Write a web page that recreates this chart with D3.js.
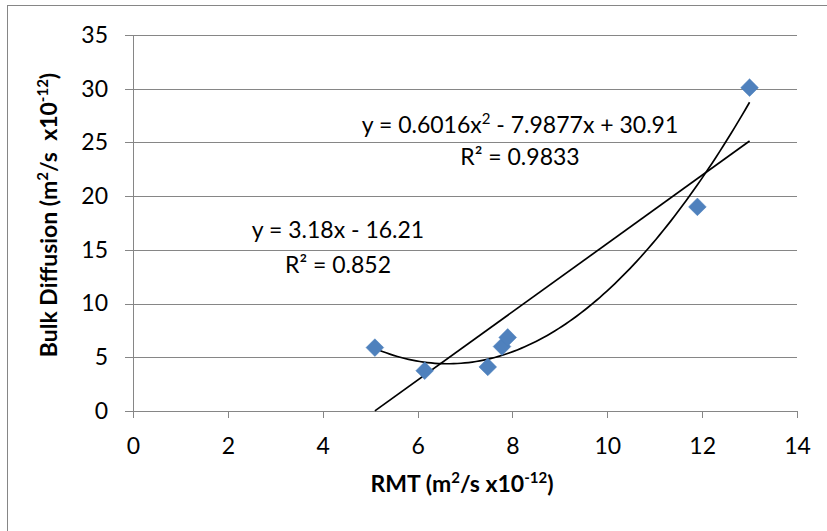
<!DOCTYPE html>
<meta charset="utf-8">
<head>
    <title>Bulk Diffusion vs RMT</title>
</head>
<style>
    body {
        margin: 0;
        background-color: #ffffff;
        font-family: Lato, "Open Sans", Arial;
    }

    .axis path,
    .axis line {
        fill: none;
        stroke: #868686;
        stroke-width: 1px;
        shape-rendering: crispEdges;
    }

    .axis text {
        font-family: Lato, "Open Sans", Arial;
        font-size: 23px;
        fill: #000;
    }

    .grid line {
        stroke: #868686;
        stroke-width: 1px;
        shape-rendering: crispEdges;
    }

    .grid path {
        display: none;
    }

    .eq {
        font-size: 23px;
        fill: #000;
    }

    .title {
        font-size: 23px;
        font-weight: 700;
        fill: #000;
    }
</style>
<body>
    <svg width="827" height="531"></svg>
</body>
<script src="https://d3js.org/d3.v7.min.js"></script>
<script>
    // RMT values (x) and bulk diffusion (y), both in m2/s x10^-12
    var rmt = [5.1, 6.15, 7.48, 7.78, 7.9, 11.9, 13.0];
    var bulk = [5.9, 3.75, 4.1, 6.0, 6.85, 19.0, 30.1];

    var xTicks = [0, 2, 4, 6, 8, 10, 12, 14];
    var yTicks = [0, 5, 10, 15, 20, 25, 30, 35];

    // trendline coefficients as printed on the chart
    var linCoef = [-16.21, 3.18];             // a + b*x
    var polyCoef = [30.91, -7.9877, 0.6016];  // a + b*x + c*x^2

    var svg = d3.select("svg");
    var margin = { top: 35, left: 133 };
    var width = 797 - margin.left,
        height = 411 - margin.top;

    // chart border (runs off the right / bottom edge like the original)
    svg.append("rect")
        .attr("x", 7.5)
        .attr("y", 5.5)
        .attr("width", 830)
        .attr("height", 540)
        .attr("fill", "#fff")
        .attr("stroke", "#868686")
        .attr("stroke-width", 1);

    var g = svg.append("g")
        .attr("transform", "translate(" + margin.left + "," + margin.top + ")");

    var x = d3.scaleLinear().domain([0, 14]).range([0, width]);
    var y = d3.scaleLinear().domain([0, 35]).range([height, 0]);

    // horizontal grid lines
    g.append("g")
        .attr("class", "grid")
        .call(d3.axisLeft(y).tickValues(yTicks).tickSize(-width).tickFormat(""));

    g.append("g")
        .attr("class", "axis yAxis")
        .call(d3.axisLeft(y).tickValues(yTicks).tickSize(8).tickSizeOuter(0).tickPadding(17));

    g.append("g")
        .attr("class", "axis xAxis")
        .attr("transform", "translate(0," + height + ")")
        .call(d3.axisBottom(x).tickValues(xTicks).tickSize(7).tickSizeOuter(0).tickPadding(20));

    var points = rmt.map(function (d, i) { return { x: d, y: bulk[i] }; });

    // trendlines over the span of the data
    var xmin = d3.min(rmt), xmax = d3.max(rmt);
    var lin = function (v) { return linCoef[0] + linCoef[1] * v; };
    var poly = function (v) { return polyCoef[0] + polyCoef[1] * v + polyCoef[2] * v * v; };

    var line = d3.line()
        .x(function (d) { return x(d[0]); })
        .y(function (d) { return y(d[1]); });

    g.append("path")
        .datum([[xmin, lin(xmin)], [xmax, lin(xmax)]])
        .attr("d", line)
        .attr("fill", "none")
        .attr("stroke", "#000")
        .attr("stroke-width", 1.7);

    var steps = d3.range(0, 101).map(function (i) {
        var v = xmin + (xmax - xmin) * i / 100;
        return [v, poly(v)];
    });

    g.append("path")
        .datum(steps)
        .attr("d", line)
        .attr("fill", "none")
        .attr("stroke", "#000")
        .attr("stroke-width", 1.7);

    // diamonds
    g.selectAll(".pt")
        .data(points)
        .enter()
        .append("path")
        .attr("class", "pt")
        .attr("d", d3.symbol().type(d3.symbolDiamond2).size(200))
        .attr("transform", function (d) { return "translate(" + x(d.x) + "," + y(d.y) + ")"; })
        .attr("fill", "#4F81BD")
        .attr("stroke", "#4A7EBB")
        .attr("stroke-width", 0.5);

    function sup(t, s) {
        t.append("tspan").attr("baseline-shift", "super").attr("font-size", "15px").text(s);
    }

    // equations
    var eqPoly = svg.append("text").attr("class", "eq")
        .attr("x", 520).attr("y", 133).attr("text-anchor", "middle");
    eqPoly.append("tspan").text("y = 0.6016x");
    sup(eqPoly, "2");
    eqPoly.append("tspan").text(" - 7.9877x + 30.91");

    svg.append("text").attr("class", "eq")
        .attr("x", 520).attr("y", 165).attr("text-anchor", "middle")
        .text("R² = 0.9833");

    svg.append("text").attr("class", "eq")
        .attr("x", 338).attr("y", 238).attr("text-anchor", "middle")
        .text("y = 3.18x - 16.21");

    svg.append("text").attr("class", "eq")
        .attr("x", 338).attr("y", 273).attr("text-anchor", "middle")
        .text("R² = 0.852");

    // axis titles
    var xt = svg.append("text").attr("class", "title")
        .attr("x", 462).attr("y", 492).attr("text-anchor", "middle");
    xt.append("tspan").text("RMT (m");
    sup(xt, "2");
    xt.append("tspan").text("/s x10");
    sup(xt, "-12");
    xt.append("tspan").text(")");

    var yt = svg.append("text").attr("class", "title")
        .attr("transform", "translate(57,215) rotate(-90)")
        .attr("text-anchor", "middle");
    yt.append("tspan").text("Bulk Diffusion (m");
    sup(yt, "2");
    yt.append("tspan").text("/s\u00a0 x10");
    sup(yt, "-12");
    yt.append("tspan").text(")");
</script>
